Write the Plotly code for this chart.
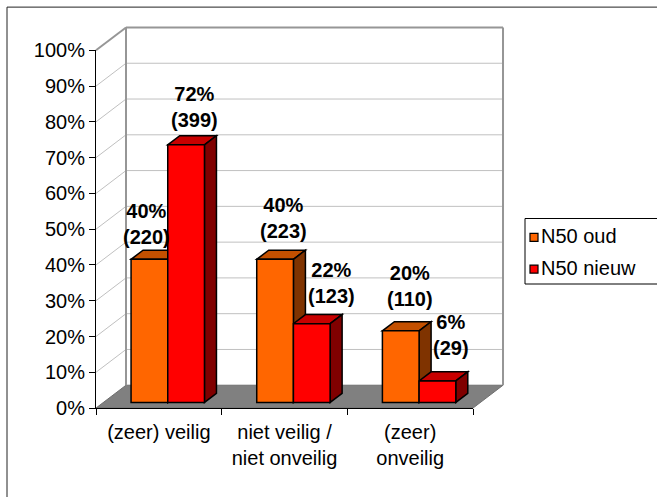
import plotly.graph_objects as go

# ---------------- data ----------------
CATEGORIES = ["(zeer) veilig", "niet veilig /<br>niet onveilig", "(zeer)<br>onveilig"]
SERIES = ["N50 oud", "N50 nieuw"]
PCT_OUD = [40, 40, 20]
PCT_NIEUW = [72, 22, 6]
N_OUD = [220, 223, 110]
N_NIEUW = [399, 123, 29]
Y_TICKS = list(range(0, 101, 10))
Y_TICK_LABELS = [f"{t}%" for t in Y_TICKS]

# ---------------- geometry / style ----------------
W, H = 657, 497
L, R, T, B = 92, 506, 20, 416          # plot area in px
X0PX, CATPX = 96, 125.67               # front plane left edge, px per category
Y0PX, PCTPX = 408, 3.605               # front plane 0 %, px per percent
DXPX, DYPX = 30, 23                    # depth offset of the 3-D box
DXU, DYU = DXPX / CATPX, DYPX / PCTPX
D0, D1 = 0.247, 0.647                  # bar front / back depth
BAR_W = 0.292
OFFS = [-0.28, 0.012]
FONT = "Liberation Sans, Arial, sans-serif"
FS = 20

COL_FRONT = ["#FF6600", "#FF0000"]
COL_TOP = ["#C45000", "#C80000"]
COL_SIDE = ["#7F3300", "#800000"]
GRID = "#C0C0C0"
FRAME = "#969696"

LABEL_NUDGE = [[(-3, 35), (8, 41), (9, 45)],     # N50 oud
               [(8, 38), (20, 41), (14, 46)]]    # N50 nieuw

xrange = [-0.5 - (X0PX - L) / CATPX, -0.5 + (R - X0PX) / CATPX]
yrange = [-(B - Y0PX) / PCTPX, (Y0PX - T) / PCTPX]


def P(x, v, d):
    return x + d * DXU, v + d * DYU


def path(pts):
    return "M " + " L ".join(f"{x:.5f},{y:.5f}" for x, y in pts) + " Z"


def xp(px):
    return (px - L) / (R - L)


def yp(py):
    return (B - py) / (B - T)


shapes = []
# floor
shapes.append(dict(type="path", xref="x", yref="y", layer="below",
                   path=path([P(-0.5, 0, 0), P(2.5, 0, 0), P(2.5, 0, 1), P(-0.5, 0, 1)]),
                   fillcolor="#808080", line=dict(color="#6E6E6E", width=1)))
# gridlines on back wall and side wall
for v in Y_TICKS[1:-1]:
    a, b = P(-0.5, v, 1), P(2.5, v, 1)
    shapes.append(dict(type="line", xref="x", yref="y", layer="below",
                       x0=a[0], y0=a[1], x1=b[0], y1=b[1], line=dict(color=GRID, width=1)))
    c = P(-0.5, v, 0)
    shapes.append(dict(type="line", xref="x", yref="y", layer="below",
                       x0=c[0], y0=c[1], x1=a[0], y1=a[1], line=dict(color=GRID, width=1)))
# wall frame
frame_pts = [(P(-0.5, 0, 1), P(-0.5, 100, 1)), (P(2.5, 0, 1), P(2.5, 100, 1)),
             (P(-0.5, 100, 1), P(2.5, 100, 1)), (P(-0.5, 100, 0), P(-0.5, 100, 1))]
for a, b in frame_pts:
    shapes.append(dict(type="line", xref="x", yref="y", layer="below",
                       x0=a[0], y0=a[1], x1=b[0], y1=b[1], line=dict(color=FRAME, width=2)))

# bar top and side faces
series_vals = [PCT_OUD, PCT_NIEUW]
for i in range(len(CATEGORIES)):
    for s in range(2):
        v = series_vals[s][i]
        xl = i + OFFS[s]
        xr = xl + BAR_W
        shapes.append(dict(type="path", xref="x", yref="y", layer="below",
                           path=path([P(xl, v, D0), P(xr, v, D0), P(xr, v, D1), P(xl, v, D1)]),
                           fillcolor=COL_TOP[s], line=dict(color="black", width=1.5)))
        shapes.append(dict(type="path", xref="x", yref="y", layer="below",
                           path=path([P(xr, 0, D0), P(xr, v, D0), P(xr, v, D1), P(xr, 0, D1)]),
                           fillcolor=COL_SIDE[s], line=dict(color="black", width=1.5)))

# outer chart border
shapes.append(dict(type="rect", xref="paper", yref="paper",
                   x0=xp(7), y0=yp(4), x1=xp(720), y1=yp(560),
                   line=dict(color="#222222", width=1), fillcolor="rgba(0,0,0,0)"))
# legend box + swatches
shapes.append(dict(type="rect", xref="paper", yref="paper",
                   x0=xp(525), y0=yp(217), x1=xp(700), y1=yp(283),
                   line=dict(color="black", width=1), fillcolor="white"))
LEG_Y = [236, 268]
for s in range(2):
    shapes.append(dict(type="rect", xref="paper", yref="paper",
                       x0=xp(530), y0=yp(LEG_Y[s] - 4), x1=xp(538), y1=yp(LEG_Y[s] + 4),
                       line=dict(color="black", width=1.2), fillcolor=COL_FRONT[s]))

fig = go.Figure()
counts = [N_OUD, N_NIEUW]
for s in range(2):
    fig.add_trace(go.Bar(
        x=[i + D0 * DXU for i in range(len(CATEGORIES))],
        y=series_vals[s], base=[D0 * DYU] * len(CATEGORIES),
        offset=OFFS[s], width=BAR_W, name=SERIES[s],
        marker=dict(color=COL_FRONT[s], line=dict(color="black", width=1.5)),
        showlegend=False, hoverinfo="skip"))

# helper trace for the front axes
fig.add_trace(go.Scatter(x=[0], y=[0], xaxis="x2", yaxis="y2", mode="markers",
                         marker=dict(opacity=0), showlegend=False, hoverinfo="skip"))

annotations = []
for s in range(2):
    for i in range(len(CATEGORIES)):
        v = series_vals[s][i]
        cx, cy = P(i + OFFS[s] + BAR_W / 2, v, D0)
        dx, dy = LABEL_NUDGE[s][i]
        annotations.append(dict(x=cx, y=cy, xref="x", yref="y", showarrow=False,
                                text=f"<b>{v}%<br>({counts[s][i]})</b>",
                                xanchor="center", yanchor="middle", xshift=dx, yshift=dy,
                                font=dict(family=FONT, size=FS, color="black")))
for s in range(2):
    annotations.append(dict(x=xp(539), y=yp(LEG_Y[s] - 1), xref="paper", yref="paper",
                            showarrow=False, text=SERIES[s], xanchor="left", yanchor="middle",
                            font=dict(family=FONT, size=FS, color="black")))

fig.update_layout(
    width=W, height=H,
    margin=dict(l=L, r=W - R, t=T, b=H - B, pad=0),
    paper_bgcolor="white", plot_bgcolor="rgba(0,0,0,0)",
    barmode="overlay", showlegend=False,
    font=dict(family=FONT, size=FS, color="black"),
    xaxis=dict(domain=[0, 1], range=xrange, tickmode="array", tickvals=[0, 1, 2],
               ticktext=CATEGORIES, ticks="", showline=False, showgrid=False,
               zeroline=False, ticklabelstandoff=2,
               tickfont=dict(family=FONT, size=FS, color="black")),
    yaxis=dict(domain=[0, 1], range=yrange, visible=False),
    xaxis2=dict(domain=[xp(X0PX), xp(X0PX + 3 * CATPX)], range=[-0.5, 2.5], anchor="y2",
                showline=True, linecolor="black", linewidth=1, ticks="outside", ticklen=6,
                tickcolor="black", tickvals=[-0.5, 0.5, 1.5, 2.5], showticklabels=False,
                showgrid=False, zeroline=False),
    yaxis2=dict(domain=[yp(Y0PX), yp(Y0PX - 100 * PCTPX)], range=[0, 100], anchor="x2",
                showline=True, linecolor="black", linewidth=1, ticks="outside", ticklen=6,
                tickcolor="black", tickmode="array", tickvals=Y_TICKS, ticktext=Y_TICK_LABELS,
                showgrid=False, zeroline=False,
                tickfont=dict(family=FONT, size=FS, color="black")),
    shapes=shapes, annotations=annotations,
)

fig.write_html("out.html")
